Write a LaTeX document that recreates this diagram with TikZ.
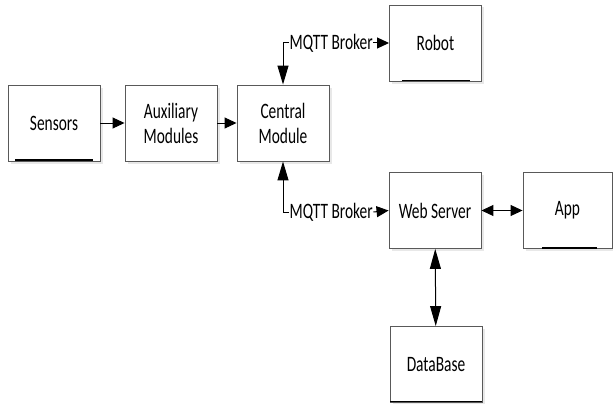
\documentclass[tikz,border=0pt]{standalone}
\usepackage{fontspec}
\setmainfont[FakeStretch=0.7]{Carlito}
\usetikzlibrary{arrows.meta,shadows}
\begin{document}
\begin{tikzpicture}[x=1pt,y=-1pt,
  box/.style={draw=black!65, line width=0.9pt, fill=white, minimum width=92pt, minimum height=76pt, inner sep=0pt, align=center,
    drop shadow={opacity=0.18, shadow xshift=2.5pt, shadow yshift=-2.5pt}},
  lbl/.style={inner sep=0.5pt},
  arr/.style={line width=1pt, -{Triangle[length=12pt,width=11pt]}},
  varr/.style={line width=1pt, -{Triangle[length=19pt,width=11pt]}},
  darr/.style={line width=1pt, {Triangle[length=12pt,width=11pt]}-{Triangle[length=12pt,width=11pt]}},
  vdarr/.style={line width=1pt, {Triangle[length=20pt,width=11pt]}-{Triangle[length=20pt,width=11pt]}},
  under/.style={line width=2pt, black},
  font=\fontsize{22}{25}\selectfont]
\useasboundingbox (0,0) rectangle (613,404);
\node[box] (sensors) at (54,123) {Sensors};
\node[box] (aux) at (171,123) {Auxiliary\\Modules};
\node[box] (central) at (283,123) {Central\\Module};
\node[box] (robot) at (435.5,43) {Robot};
\node[box] (web) at (435,210.5) {Web Server};
\node[box, minimum width=89pt] (app) at (567.5,210.5) {App};
\node[box] (db) at (436,364.5) {DataBase};
\draw[under] (15,160) -- (93,160);
\draw[under, line width=1.6pt] (402,80.5) -- (470,80.5);
\draw[under] (542,248) -- (597,248);
\draw[under, line width=1.4pt] (390,401.5) -- (482,401.5);
\node[lbl, anchor=west] (m1) at (289,43) {MQTT Broker};
\node[lbl, anchor=west] (m2) at (289,212) {MQTT Broker};
\draw[arr] (sensors) -- (aux);
\draw[arr] (aux) -- (central);
\draw[varr] (m1.west) -| (central.north);
\draw[arr] (m1.east) -- (robot.west);
\draw[varr] (m2.west) -| (central.south);
\draw[arr] (m2.east) -- (web.west);
\draw[darr] (web) -- (app);
\draw[vdarr] (web) -- (db);
\end{tikzpicture}
\end{document}
